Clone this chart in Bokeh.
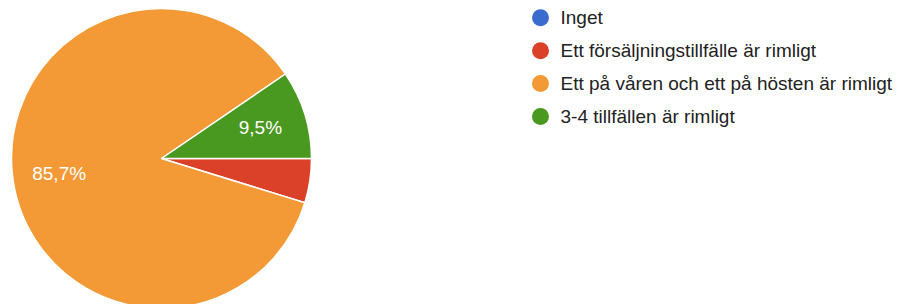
import math
from bokeh.plotting import figure
from bokeh.models import ColumnDataSource, Range1d
from bokeh.core.properties import value
from bokeh.embed import file_html
from bokeh.resources import INLINE

categories = ["Inget", "Ett försäljningstillfälle är rimligt",
              "Ett på våren och ett på hösten är rimligt", "3-4 tillfällen är rimligt"]
counts = [0, 1, 18, 2]
colors = ["#3a6ccf", "#da4128", "#f39935", "#49981f"]

W, H = 896, 304
cx, cy, R = 161, H - 158, 150

total = sum(counts)
starts, ends, labels, lx, ly = [], [], [], [], []
cum = 0.0
for c in counts:
    frac = c / total
    a0 = -cum * 2 * math.pi
    a1 = -(cum + frac) * 2 * math.pi
    starts.append(a0)
    ends.append(a1)
    mid = (a0 + a1) / 2
    pct = frac * 100
    lab = f"{pct:.1f}%".replace(".", ",") if pct >= 5 else ""
    labels.append(lab)
    lx.append(cx + 0.69 * R * math.cos(mid))
    ly.append(cy + 0.69 * R * math.sin(mid))
    cum += frac

src = ColumnDataSource(dict(label=labels, lx=lx, ly=ly))

p = figure(width=W, height=H, output_backend="svg", toolbar_location=None,
           x_range=Range1d(0, W), y_range=Range1d(0, H), min_border=0)
p.axis.visible = False
p.grid.visible = False
p.outline_line_color = None
p.background_fill_color = "white"

nz = [i for i, c in enumerate(counts) if c > 0]
src_nz = ColumnDataSource(dict(start=[starts[i] for i in nz], end=[ends[i] for i in nz],
                               color=[colors[i] for i in nz]))
p.wedge(x=cx, y=cy, radius=R, start_angle="start", end_angle="end", direction="clock",
        fill_color="color", line_color="white", line_width=1.5, source=src_nz)

p.text(x="lx", y="ly", text="label", source=src, text_color="white",
       text_font=value("Liberation Sans"), text_font_size="19px",
       text_align="center", text_baseline="middle")

# legend
leg_x = 540
leg_y0 = H - 17.3
leg_dy = 32.9
leg_ys = [leg_y0 - i * leg_dy for i in range(len(categories))]
lsrc = ColumnDataSource(dict(x=[leg_x] * len(categories), y=leg_ys, color=colors,
                             tx=[leg_x + 20] * len(categories), cat=categories))
p.scatter(x="x", y="y", size=17, marker="circle", fill_color="color", line_color=None, source=lsrc)
p.text(x="tx", y="y", text="cat", source=lsrc, text_color="#222222",
       text_font=value("Liberation Sans"), text_font_size="19px",
       text_align="left", text_baseline="middle")

open("out.html", "w").write(file_html(p, INLINE))
